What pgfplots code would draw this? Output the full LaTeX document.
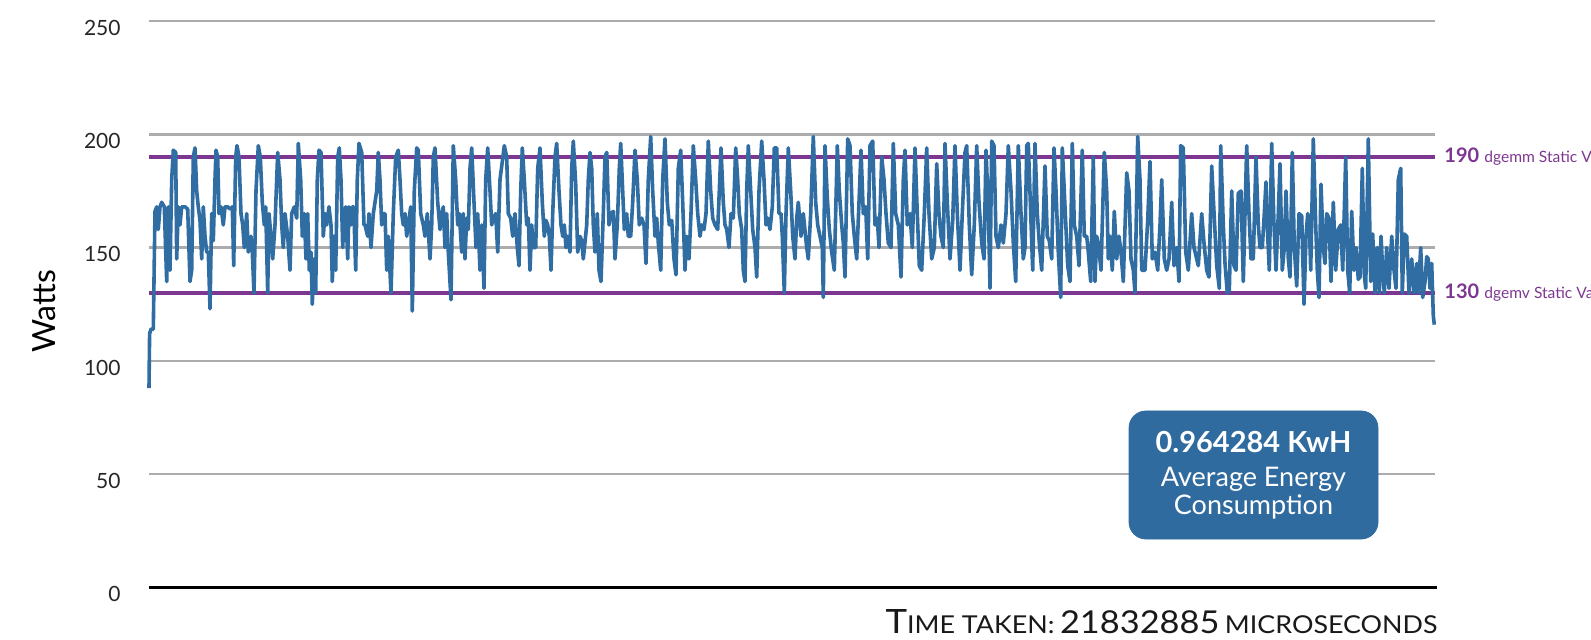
\documentclass[border=0pt]{standalone}
\usepackage{fontspec}
\setmainfont{Lato}
\usepackage{pgfplots}
\pgfplotsset{compat=1.18}
\definecolor{lineblue}{RGB}{47,109,163}
\definecolor{boxblue}{RGB}{48,107,159}
\definecolor{refpurple}{RGB}{125,55,145}
\definecolor{gridgray}{RGB}{172,172,172}
\begin{document}
\begin{tikzpicture}
\begin{axis}[at={(0,0)}, anchor=south west, scale only axis,
  width=643pt, height=283.25pt,
  xmin=0, xmax=1286, ymin=0, ymax=250,
  axis lines=left, axis line style={draw=none, -},
  xtick=\empty, ytick={0,50,...,250}, major tick length=0pt,
  ymajorgrids, grid style={gridgray, line width=1.2pt},
  yticklabel style={inner sep=0pt, anchor=east, xshift=-14pt, yshift=-3.4pt, font=\fontsize{10.5}{12}\selectfont, text=black!85},
  /pgf/number format/assume math mode=true,
  clip=false]
\addplot[refpurple, line width=1.6pt, forget plot] coordinates {(0,190) (1286,190)};
\addplot[refpurple, line width=1.6pt, forget plot] coordinates {(0,130) (1286,130)};
\addplot[lineblue, line width=1.8pt, line join=round, forget plot] coordinates {
(0,88) (0.6,112) (2,114) (4.3,114) (6,166) (7.7,168) (9.3,158) (11,168) (12.7,170) (15.3,168) (17.7,135) (19.3,168) (21,140) (22.7,180) (24.3,193) (26.7,192) (27.7,145) (29.3,168) (31,160) (32.7,168) (36,168) (38.7,167) (41,135) (42.7,140) (44.3,190) (46,194) (47.7,175) (49.3,168) (51,162) (52.7,145) (54.3,168) (56,155) (57.7,148) (59.3,148) (61,123) (62.7,165) (64.3,153) (66,180) (67,193) (68.7,190) (70,165) (72,168) (74.3,160) (76,168) (78.7,168) (81,167) (83.3,168) (84.7,142) (86.7,190) (88,195) (90,190) (92,165) (93.7,160) (95.3,150) (97.7,165) (99.3,148) (102,155) (103.3,148) (105,130) (107,175) (109.3,195) (111.3,190) (113.3,170) (115.3,160) (116.7,168) (118.7,130) (120,165) (122,155) (123.7,145) (126,160) (128.7,192) (131,180) (132.7,160) (134.3,150) (136,165) (138.7,155) (141,140) (142.7,165) (145.3,168) (147.7,163) (149.3,196) (151.7,180) (153.3,155) (155.3,165) (157,145) (158.7,165) (160.3,140) (162,148) (163.3,125) (165,145) (166.7,130) (168.3,180) (170,193) (172,192) (174.3,155) (176,165) (177.7,160) (180,168) (182,160) (183.3,135) (185,155) (186.7,140) (188.7,190) (190.3,194) (192,180) (193.7,150) (195.3,165) (196.7,168) (198.7,145) (200,168) (202,160) (203.3,168) (204.7,168) (206.7,140) (208.3,180) (210,196) (212.7,192) (215,160)
(216,160) (218.7,155) (220,165) (222,150) (224.3,165) (226,170) (227.7,175) (229.3,192) (231,180) (232.7,160) (234.3,165) (236,165) (237.7,140) (239.3,155) (242,130) (244.3,165) (246.7,190) (249.3,193) (251,180) (252.7,165) (254.3,160) (256,165) (257.7,155) (259.3,160) (261.7,168) (263.3,122) (265.3,175) (267.7,194) (269.3,193) (271.7,165) (274.3,160) (276,155) (278.3,165) (281,145) (282.7,160) (284.3,190) (286,194) (288.7,170) (291,158) (292.7,165) (294.3,168) (296,150) (297.7,165) (299.3,148) (302,127) (304.3,195) (306.7,180) (308.7,160) (310.3,165) (312.7,148) (314.3,165) (316,145) (317.7,163) (319.3,158) (321,185) (322.7,194) (325,170) (327,150) (328.7,165) (331,140) (332.7,160) (335,132) (336.7,180) (338.7,194) (341,175) (342.7,160) (344.3,163) (346.7,165) (348.7,148) (351,180) (355.3,195) (357.7,190) (359.3,165) (361.7,163) (363.7,155) (366,165) (368.3,150) (370,142) (371.7,175) (373.3,194) (375.3,180) (377.7,160) (379.3,163) (381,140) (382.7,160) (384.3,150) (386.7,150) (388.7,185) (391,194) (393.3,170) (395.3,155) (397,162) (398.7,160) (400.3,155) (402,140) (403.7,165) (406,190) (407.7,196) (410,175) (412,160) (413.7,155) (415.3,160) (417,150) (418.7,155) (421,148) (422.7,185) (424.3,197) (426.7,178) (428.7,148) (431,155) (432.7,153) (434.3,145)
(437.7,160) (439.3,180) (441,192) (442.7,185) (444.3,160) (446,148) (448.3,165) (450,140) (452,135) (454.3,165) (456,190) (457.7,192) (460,160) (462,165) (464.3,166) (466,145) (468.3,160) (470.3,185) (471.7,196) (473.7,175) (475.3,158) (477.7,165) (479.3,155) (481.7,155) (483.7,170) (486,193) (488.3,180) (490.3,160) (492.7,163) (495,160) (497,143) (499.3,180) (501.7,199) (503.7,175) (506,155) (507.7,163) (509.3,152) (511.7,140) (513.7,180) (516,198) (518.3,170) (520.3,160) (522.7,162) (525,145) (527,138) (529.3,185) (531.7,193) (533.7,170) (536,140) (537.7,155) (540,145) (542,165) (544.3,195) (546.7,180) (548.7,165) (551,155) (552.7,160) (555,158) (557,165) (559.3,197) (561.7,175) (563.7,163) (566,160) (568.7,158) (570.3,175) (572,194) (574.3,170) (576,160) (577.7,158) (580,150) (582,165) (584.3,163) (586.7,194) (588.7,180) (590.3,165) (592.7,158) (594.3,140) (596,135) (597.7,175) (599.3,195) (601.7,175) (603.7,158) (606,150) (607.7,137) (610,175) (612.7,197) (615,180) (617,160) (618.7,163) (621,158) (623.3,168) (625.3,194) (627.7,194) (630,165) (632,165) (633.3,155) (635.3,130) (637,165) (639.3,194) (641.7,175) (643.7,155) (646,145) (647.7,163) (649.3,170) (652,155) (654.3,165)
(657.7,150) (659.3,145) (661.7,165) (664.3,199) (666.7,170) (668.7,160) (671,155) (673.3,150) (674.3,128) (676,195) (678.3,172) (680.3,158) (682.7,148) (685.3,140) (688.3,195) (690.3,175) (692.7,160) (694.3,152) (696,137) (698.7,198) (701,195) (703.3,165) (705.3,155) (707.7,145) (710,170) (712,193) (714.3,165) (716.7,168) (718.7,145) (721,195) (723.7,197) (726,160) (728.3,163) (730,150) (732.7,190) (735,180) (737,165) (739.3,152) (742,150) (744.3,196) (746.7,165) (749.3,160) (752,137) (754.3,180) (756,193) (758.3,160) (761,165) (763.3,150) (766,194) (768.3,165) (770.3,142) (772.7,140) (775.3,165) (777.7,194) (780,165) (782.7,145) (785.3,150) (787.7,187) (790,165) (792,155) (794.3,150) (796,196) (798.3,170) (801,145) (803.7,162) (806,195) (808.3,165) (811,140) (813.3,165) (816,192) (817.7,195) (820.3,160) (822.7,138) (825.3,160) (827.7,195) (830,170) (832.7,152) (835,145) (837,193) (839.3,168) (841,132) (842.7,197) (845,195) (847,155) (849.3,150) (852,160) (854.3,152) (857,165) (859.3,195) (862,175) (864.3,152) (866.7,135) (869.3,195) (872,165) (874.3,145)
(876,150) (877.7,195) (879.3,196) (881.7,165) (883.7,140) (886,196) (888.3,165) (890.3,152) (892.7,140) (896,186) (898.3,155) (900.3,153) (902.7,145) (905,194) (907,175) (909.3,148) (911.7,128) (913.3,194) (916,168) (918.7,142) (921,135) (923.3,196) (925.3,160) (927.7,155) (930,142) (933.3,193) (935.3,155) (937.7,155) (939.3,148) (941.7,135) (944.3,190) (946,135) (947.7,155) (949.3,152) (952,140) (955.3,192) (957.7,175) (959.3,145) (961,155) (963.3,140) (965.3,166) (967.7,145) (970,155) (972,148) (974.3,135) (977.7,183) (980,175) (982,145) (984.3,140) (986,130) (988.7,199) (991,180) (992.7,140) (996,140) (998.7,162) (1001,188) (1003.3,145) (1006,148) (1008.7,140) (1011,160) (1012.7,180) (1015.3,145) (1017.7,140) (1020,145) (1022.7,170) (1025,142) (1027.7,150) (1030,135) (1031.7,195) (1034.3,194) (1036.7,148) (1039.3,140) (1042.7,165) (1045,150) (1047.7,145) (1049.3,142) (1052.7,165) (1055,152) (1057.7,140) (1060,137) (1062.7,186) (1065.3,163) (1067.7,142) (1070.3,132) (1071.7,195) (1074.3,160) (1076,143) (1078.3,130) (1080.3,131) (1082.7,175) (1085,142) (1087,140) (1089.3,174) (1092,175) (1094.3,135)
(1097.7,195) (1100,165) (1102,145) (1104.3,145) (1107,190) (1109.3,160) (1111,150) (1113.3,150) (1115.3,165) (1117,179) (1118.7,155) (1120.3,140) (1122.7,196) (1125,160) (1127,140) (1129.3,165) (1131,187) (1133.3,140) (1135.3,150) (1137,175) (1139.3,145) (1141,137) (1143.3,192) (1145.3,150) (1147.7,133) (1150,165) (1152.7,164) (1155,125) (1157,155) (1158.7,165) (1160.3,162) (1161.7,140) (1164.3,198) (1166.7,160) (1168.3,140) (1170,128) (1172,178) (1174.3,150) (1176,143) (1177.7,165) (1180,163) (1182,135) (1184.3,170) (1186.7,140) (1189.3,158) (1191.7,160) (1193.7,140) (1196.7,190) (1198.7,140) (1200.7,130) (1202.7,166) (1205,140) (1207,150) (1209.3,136) (1211,137) (1213.3,185) (1215.3,138) (1216.7,132) (1219.3,198) (1221.7,135) (1223.7,156) (1226,130) (1228.3,150) (1230.3,130) (1232,155) (1233.7,140) (1235.3,130) (1237.7,150) (1240,132) (1242.7,155) (1245,140) (1247,132) (1249.3,180) (1251.7,185) (1253.3,130) (1255.3,156) (1257.7,155) (1260,130) (1262.7,145) (1265,130) (1267.7,143) (1269.3,130) (1271.7,150) (1273.7,128) (1276,135) (1277.7,146) (1279.3,145) (1281,132) (1282.7,143) (1284.3,120) (1285.3,116)
};
\addplot[black, line width=1.6pt, forget plot] coordinates {(0,0) (1288,0)};
\node[anchor=west, inner sep=0pt, text=refpurple] at (axis cs:1295,190) {\fontsize{10}{11}\selectfont\textbf{190} {\fontsize{7.8}{10}\selectfont dgemm Static Value}};
\node[anchor=west, inner sep=0pt, text=refpurple] at (axis cs:1295,130) {\fontsize{10}{11}\selectfont\textbf{130} {\fontsize{7.8}{10}\selectfont dgemv Static Value}};
\draw[boxblue, fill=boxblue, rounded corners=8.5pt] (axis cs:980,21.4) rectangle (axis cs:1229,77.9);
\node[anchor=base, inner sep=0pt, text=white] at (axis cs:1104.5,59.5) {\fontsize{14.5}{16}\selectfont\bfseries 0.964284 KwH};
\node[anchor=base, inner sep=0pt, text=white] at (axis cs:1104.5,44.5) {\fontsize{13.5}{15}\selectfont Average Energy};
\node[anchor=base, inner sep=0pt, text=white] at (axis cs:1104.5,32.0) {\fontsize{13.5}{15}\selectfont Consumption};
\node[anchor=base east, inner sep=0pt, text=black!90] at (axis cs:1289,-20.5) {\resizebox{276pt}{12pt}{{\fontsize{17}{17}\selectfont T}{\fontsize{12.5}{13}\selectfont IME TAKEN:} {\fontsize{16}{17}\selectfont 21832885} {\fontsize{12.5}{13}\selectfont MICROSECONDS}}};
\node[rotate=90, anchor=center, inner sep=0pt, text=black] at (axis cs:-105,122) {\fontsize{16}{18}\selectfont Watts};
\end{axis}
\pgfresetboundingbox
\useasboundingbox (-74.5pt,-25.75pt) rectangle (721pt,293.75pt);
\end{tikzpicture}
\end{document}
